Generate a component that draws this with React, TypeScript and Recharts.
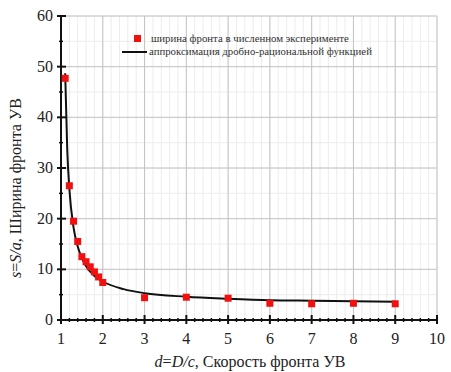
import React from 'react';
import {
  ComposedChart, Scatter, Line, XAxis, YAxis, ZAxis, CartesianGrid,
} from 'recharts';

const EXP_D = [1.1, 1.2, 1.3, 1.4, 1.5, 1.6, 1.7, 1.8, 1.9, 2, 3, 4, 5, 6, 7, 8, 9];
const EXP_S = [47.7, 26.5, 19.5, 15.5, 12.5, 11.5, 10.5, 9.5, 8.5, 7.4, 4.4, 4.5, 4.3, 3.3, 3.2, 3.3, 3.2];

const FIT_D = [1.1, 1.15, 1.2, 1.3, 1.4, 1.5, 1.6, 1.8, 2, 2.5, 3, 4, 5, 6, 7, 8, 9];
const FIT_S = [48.7, 33.5, 25.9, 18.3, 14.5, 12.2, 10.6, 8.7, 7.6, 6.1, 5.3, 4.6, 4.2, 3.9, 3.8, 3.7, 3.6];

const X_LABELS = [1, 2, 3, 4, 5, 6, 7, 8, 9, 10];
const Y_LABELS = [0, 10, 20, 30, 40, 50, 60];

const LEGEND_EXP = 'ширина фронта в численном эксперименте';
const LEGEND_FIT = 'аппроксимация дробно-рациональной функцией';

const expData = EXP_D.map((d, i) => ({ d, s: EXP_S[i] }));
const fitData = FIT_D.map((d, i) => ({ d, s: FIT_S[i] }));

// minor ticks / grid between the labelled ones
const xMinor = Array.from({ length: 46 }, (_, i) => Math.round((1 + i * 0.2) * 10) / 10);
const yMinor = Array.from({ length: 13 }, (_, i) => i * 5);

const FONT = '"Liberation Serif", "DejaVu Serif", serif';
const LEFT = 61;
const BOTTOM = 320;

const XTick = (p: any) => {
  const v = p.payload.value;
  const major = X_LABELS.includes(v);
  return (
    <g>
      <line x1={p.x} x2={p.x} y1={BOTTOM - (major ? 5 : 2)} y2={BOTTOM + (major ? 4 : 2)} stroke="#111" strokeWidth={major ? 2 : 1.5} />
      {major && (
        <text x={p.x} y={BOTTOM + 24} textAnchor="middle" fontSize={16} fontFamily={FONT} fill="#222">{v}</text>
      )}
    </g>
  );
};

const YTick = (p: any) => {
  const v = p.payload.value;
  const major = Y_LABELS.includes(v);
  return (
    <g>
      <line x1={LEFT - (major ? 4 : 2)} x2={LEFT + (major ? 5 : 2)} y1={p.y} y2={p.y} stroke="#111" strokeWidth={major ? 2 : 1.5} />
      {major && (
        <text x={LEFT - 8} y={p.y + 5} textAnchor="end" fontSize={16} fontFamily={FONT} fill="#222">{v}</text>
      )}
    </g>
  );
};

const ChartLegend = () => (
  <div style={{ position: 'absolute', left: 122, top: 32, fontFamily: FONT, fontSize: 10.8, color: '#333', lineHeight: '13px' }}>
    <div style={{ display: 'flex', alignItems: 'center' }}>
      <span style={{ display: 'inline-block', width: 25, textAlign: 'center', lineHeight: 0 }}>
        <span style={{ display: 'inline-block', width: 7, height: 7, background: '#f01010', marginLeft: 6 }} />
      </span>
      <span style={{ marginLeft: 4 }}>{LEGEND_EXP}</span>
    </div>
    <div style={{ display: 'flex', alignItems: 'center' }}>
      <span style={{ display: 'inline-block', width: 25, height: 2, background: '#111' }} />
      <span style={{ marginLeft: 2 }}>{LEGEND_FIT}</span>
    </div>
  </div>
);

export default function App() {
  return (
    <div style={{ position: 'absolute', left: 0, top: 0, width: 451, height: 372, background: '#fff' }}>
      <ComposedChart width={451} height={372} margin={{ top: 16, right: 14, bottom: 22, left: 21 }}>
        <CartesianGrid stroke="#ececec" strokeWidth={1} verticalValues={xMinor} horizontalValues={yMinor} />
        <CartesianGrid stroke="#c4c4c4" strokeWidth={1} verticalValues={X_LABELS} horizontalValues={Y_LABELS} />
        <XAxis
          type="number"
          dataKey="d"
          domain={[1, 10]}
          ticks={xMinor}
          interval={0}
          tickLine={false}
          tick={XTick}
          axisLine={{ stroke: '#111', strokeWidth: 2 }}
          height={30}
          allowDataOverflow
          label={{
            content: () => (
              <text x={250} y={367} textAnchor="middle" fontSize={16} fontFamily={FONT} fill="#222">
                <tspan fontStyle="italic">d</tspan>=<tspan fontStyle="italic">D/c</tspan>, Скорость фронта УВ
              </text>
            ),
          }}
        />
        <YAxis
          type="number"
          dataKey="s"
          domain={[0, 60]}
          ticks={yMinor}
          interval={0}
          tickLine={false}
          tick={YTick}
          axisLine={{ stroke: '#111', strokeWidth: 2 }}
          width={40}
          allowDataOverflow
          label={{
            content: () => (
              <text x={0} y={0} transform="translate(21,188) rotate(-90)" textAnchor="middle" fontSize={16} fontFamily={FONT} fill="#222">
                <tspan fontStyle="italic">s</tspan>=<tspan fontStyle="italic">S/a</tspan>, Ширина фронта УВ
              </text>
            ),
          }}
        />
        <ZAxis range={[49, 49]} />
        <Line
          data={fitData}
          dataKey="s"
          type="monotone"
          stroke="#111"
          strokeWidth={2}
          dot={false}
          isAnimationActive={false}
        />
        <Scatter data={expData} dataKey="s" fill="#f01010" shape="square" isAnimationActive={false} />
      </ComposedChart>
      <ChartLegend />
    </div>
  );
}
